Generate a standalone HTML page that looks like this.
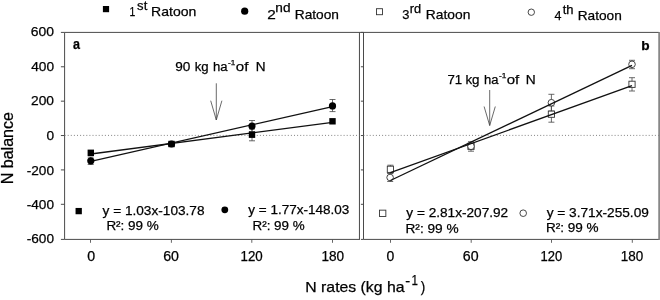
<!DOCTYPE html>
<html><head><meta charset="utf-8"><title>N balance</title>
<style>
html,body{margin:0;padding:0;background:#fff;}
body{width:660px;height:300px;overflow:hidden;font-family:"Liberation Sans",sans-serif;}
svg{display:block;will-change:transform;opacity:0.999;}
text{font-family:"Liberation Sans",sans-serif;fill:#000;stroke:#000;stroke-width:0.25px;}
</style></head><body>
<svg width="660" height="300" viewBox="0 0 660 300">
<rect width="660" height="300" fill="#fff"/>
<g stroke="#4a4a4a" stroke-width="1" fill="none">
<path d="M64.6 239.4 V32.4 H658.8 M658.8 239.4 H363.5 V32.4"/>
<path d="M659.1 31.9 V239.9" stroke="#6a6a6a" stroke-width="1.4"/>
<path d="M64.6 239.4 H359.95 M359.45 239.4 V32.4"/>
<path d="M60.9 32.40 H64.6"/>
<path d="M360.9 32.40 H363.5"/>
<path d="M60.9 66.78 H64.6"/>
<path d="M360.9 66.78 H363.5"/>
<path d="M60.9 101.16 H64.6"/>
<path d="M360.9 101.16 H363.5"/>
<path d="M60.9 135.54 H64.6"/>
<path d="M360.9 135.54 H363.5"/>
<path d="M60.9 169.92 H64.6"/>
<path d="M360.9 169.92 H363.5"/>
<path d="M60.9 204.30 H64.6"/>
<path d="M360.9 204.30 H363.5"/>
<path d="M60.9 239.40 H64.6"/>
<path d="M360.9 239.40 H363.5"/>
</g>
<g stroke="#555" stroke-width="0.9" fill="none">
<path d="M90.5 239.4 V242.8"/>
<path d="M171.4 239.4 V242.8"/>
<path d="M251.8 239.4 V242.8"/>
<path d="M332.5 239.4 V242.8"/>
<path d="M390.5 239.4 V242.8"/>
<path d="M471.2 239.4 V242.8"/>
<path d="M551.5 239.4 V242.8"/>
<path d="M632.3 239.4 V242.8"/>
</g>
<path d="M64.6 135.4 H359.45 M363.5 135.4 H658.8" stroke="#777" stroke-width="0.9" stroke-dasharray="1 2.1" fill="none"/>
<text x="30.79" y="35.6" font-size="13.25" textLength="23.25" lengthAdjust="spacingAndGlyphs">600</text>
<text x="31.19" y="70.5" font-size="13.25" textLength="22.85" lengthAdjust="spacingAndGlyphs">400</text>
<text x="31.06" y="105.2" font-size="13.25" textLength="22.98" lengthAdjust="spacingAndGlyphs">200</text>
<text x="46.41" y="139.6" font-size="13.25" textLength="7.62" lengthAdjust="spacingAndGlyphs">0</text>
<text x="26.74" y="174.5" font-size="13.25" textLength="27.29" lengthAdjust="spacingAndGlyphs">-200</text>
<text x="26.74" y="208.6" font-size="13.25" textLength="27.29" lengthAdjust="spacingAndGlyphs">-400</text>
<text x="26.74" y="243.0" font-size="13.25" textLength="27.29" lengthAdjust="spacingAndGlyphs">-600</text>
<text x="87.19" y="260.9" font-size="13.75" textLength="7.91" lengthAdjust="spacingAndGlyphs">0</text>
<text x="163.23" y="260.9" font-size="13.75" textLength="15.77" lengthAdjust="spacingAndGlyphs">60</text>
<text x="240.53" y="260.9" font-size="13.75" textLength="22.24" lengthAdjust="spacingAndGlyphs">120</text>
<text x="321.42" y="260.9" font-size="13.75" textLength="22.67" lengthAdjust="spacingAndGlyphs">180</text>
<text x="386.4" y="260.9" font-size="13.75" textLength="7.79" lengthAdjust="spacingAndGlyphs">0</text>
<text x="462.83" y="260.9" font-size="13.75" textLength="15.77" lengthAdjust="spacingAndGlyphs">60</text>
<text x="540.46" y="260.9" font-size="13.75" textLength="21.7" lengthAdjust="spacingAndGlyphs">120</text>
<text x="620.73" y="260.9" font-size="13.75" textLength="22.45" lengthAdjust="spacingAndGlyphs">180</text>
<text x="305.3" y="291.9" font-size="15" textLength="99.2" lengthAdjust="spacingAndGlyphs">N rates (kg ha</text>
<text x="405.14" y="286.3" font-size="15.25" textLength="4.91" lengthAdjust="spacingAndGlyphs">-</text>
<text x="411.52" y="285.4" font-size="15.5" textLength="6.45" lengthAdjust="spacingAndGlyphs">1</text>
<text x="420.72" y="291.9" font-size="15" textLength="4.52" lengthAdjust="spacingAndGlyphs">)</text>
<g transform="translate(12.9,183.0) rotate(-90)"><text x="-1.32" y="0" font-size="15.75" textLength="72.33" lengthAdjust="spacingAndGlyphs">N balance</text></g>
<text x="72.93" y="48.8" font-size="15.25" textLength="6.99" lengthAdjust="spacingAndGlyphs" font-weight="bold">a</text>
<text x="641.2" y="50.4" font-size="13.5" textLength="8.36" lengthAdjust="spacingAndGlyphs" font-weight="bold">b</text>
<rect x="102.90" y="6.00" width="6.2" height="6.2" fill="#000"/>
<circle cx="244.7" cy="11.2" r="3.6" fill="#000"/>
<rect x="376.50" y="8.70" width="6" height="6" fill="#fff" stroke="#333" stroke-width="0.9"/>
<circle cx="531.3" cy="12.2" r="3.2" fill="#fff" stroke="#333" stroke-width="0.9"/>
<text x="129.6" y="16.2" font-size="13.5" textLength="5.8" lengthAdjust="spacingAndGlyphs">1</text>
<text x="137.14" y="9.899999999999999" font-size="12" textLength="10.16" lengthAdjust="spacingAndGlyphs">st</text>
<text x="151.05" y="16.2" font-size="13.5" textLength="45.26" lengthAdjust="spacingAndGlyphs">Ratoon</text>
<text x="267.23" y="18.6" font-size="13.5" textLength="8.55" lengthAdjust="spacingAndGlyphs">2</text>
<text x="275.39" y="12.3" font-size="12" textLength="15.19" lengthAdjust="spacingAndGlyphs">nd</text>
<text x="294.78" y="18.6" font-size="13.5" textLength="44.22" lengthAdjust="spacingAndGlyphs">Ratoon</text>
<text x="402.21" y="18.8" font-size="13.5" textLength="7.16" lengthAdjust="spacingAndGlyphs">3</text>
<text x="409.85" y="12.5" font-size="12" textLength="11.37" lengthAdjust="spacingAndGlyphs">rd</text>
<text x="425.87" y="18.8" font-size="13.5" textLength="44.53" lengthAdjust="spacingAndGlyphs">Ratoon</text>
<text x="554.61" y="19.8" font-size="13.5" textLength="6.95" lengthAdjust="spacingAndGlyphs">4</text>
<text x="562.7" y="13.5" font-size="12" textLength="10.84" lengthAdjust="spacingAndGlyphs">th</text>
<text x="577.68" y="19.8" font-size="13.5" textLength="44.11" lengthAdjust="spacingAndGlyphs">Ratoon</text>
<text x="175.26" y="70.9" font-size="13.25" textLength="15.17" lengthAdjust="spacingAndGlyphs">90</text>
<text x="194.71" y="70.9" font-size="13.25" textLength="13.94" lengthAdjust="spacingAndGlyphs">kg</text>
<text x="212.89" y="70.9" font-size="13.25" textLength="14.61" lengthAdjust="spacingAndGlyphs">ha</text>
<text x="228.04" y="64.5" font-size="8" textLength="7.26" lengthAdjust="spacingAndGlyphs">-1</text>
<text x="235.76" y="70.9" font-size="13.25" textLength="12.61" lengthAdjust="spacingAndGlyphs">of</text>
<text x="255.78" y="70.9" font-size="13.25" textLength="9.83" lengthAdjust="spacingAndGlyphs">N</text>
<text x="447.52" y="83.9" font-size="13.25" textLength="14.73" lengthAdjust="spacingAndGlyphs">71</text>
<text x="465.4" y="83.9" font-size="13.25" textLength="14.17" lengthAdjust="spacingAndGlyphs">kg</text>
<text x="484.0" y="83.9" font-size="13.25" textLength="14.5" lengthAdjust="spacingAndGlyphs">ha</text>
<text x="498.93" y="77.5" font-size="8" textLength="7.37" lengthAdjust="spacingAndGlyphs">-1</text>
<text x="506.67" y="83.9" font-size="13.25" textLength="12.51" lengthAdjust="spacingAndGlyphs">of</text>
<text x="525.77" y="83.9" font-size="13.25" textLength="9.95" lengthAdjust="spacingAndGlyphs">N</text>
<path d="M216.3 83.3 V120 M210.70000000000002 100.7 L216.3 120 L221.9 100.7" stroke="#444" stroke-width="0.8" fill="none"/>
<path d="M489.7 90 V125.5 M484.09999999999997 106.5 L489.7 125.5 L495.3 106.5" stroke="#444" stroke-width="0.8" fill="none"/>
<path d="M252 120.5 V131.5 M249.0 120.5 H255.0 M249.0 131.5 H255.0" stroke="#444" stroke-width="0.8" fill="none"/>
<path d="M252 129 V140.8 M249.0 129 H255.0 M249.0 140.8 H255.0" stroke="#444" stroke-width="0.8" fill="none"/>
<path d="M332.5 99.5 V111.6 M329.5 99.5 H335.5 M329.5 111.6 H335.5" stroke="#444" stroke-width="0.8" fill="none"/>
<path d="M90.7 157 V164.5 M87.7 157 H93.7 M87.7 164.5 H93.7" stroke="#444" stroke-width="0.8" fill="none"/>
<path d="M90.8 154.0 L332.5 122.3" stroke="#111" stroke-width="1.3" fill="none"/>
<path d="M90.8 161.3 L332.5 106.6" stroke="#111" stroke-width="1.3" fill="none"/>
<rect x="87.60" y="149.60" width="6.4" height="6.4" fill="#000"/>
<rect x="168.30" y="140.80" width="6.4" height="6.4" fill="#000"/>
<rect x="248.80" y="131.50" width="6.4" height="6.4" fill="#000"/>
<rect x="329.30" y="118.10" width="6.4" height="6.4" fill="#000"/>
<circle cx="90.8" cy="160.8" r="3.6" fill="#000"/>
<circle cx="171.5" cy="144" r="3.6" fill="#000"/>
<circle cx="252" cy="126.1" r="3.6" fill="#000"/>
<circle cx="332.5" cy="105.9" r="3.6" fill="#000"/>
<path d="M390.4 165.2 V173 M387.4 165.2 H393.4 M387.4 173 H393.4" stroke="#444" stroke-width="0.8" fill="none"/>
<path d="M390.2 173.5 V181.5 M387.2 173.5 H393.2 M387.2 181.5 H393.2" stroke="#444" stroke-width="0.8" fill="none"/>
<path d="M471 141.7 V151.2 M468.0 141.7 H474.0 M468.0 151.2 H474.0" stroke="#444" stroke-width="0.8" fill="none"/>
<path d="M551.4 94.3 V111 M548.4 94.3 H554.4 M548.4 111 H554.4" stroke="#444" stroke-width="0.8" fill="none"/>
<path d="M551.4 106 V122.2 M548.4 106 H554.4 M548.4 122.2 H554.4" stroke="#444" stroke-width="0.8" fill="none"/>
<path d="M632 60.3 V68.7 M629.0 60.3 H635.0 M629.0 68.7 H635.0" stroke="#444" stroke-width="0.8" fill="none"/>
<path d="M632 77.7 V91 M629.0 77.7 H635.0 M629.0 91 H635.0" stroke="#444" stroke-width="0.8" fill="none"/>
<rect x="387.30" y="166.20" width="6.2" height="6.2" fill="#fff" stroke="#333" stroke-width="0.9"/>
<rect x="467.90" y="143.20" width="6.2" height="6.2" fill="#fff" stroke="#333" stroke-width="0.9"/>
<rect x="548.30" y="111.10" width="6.2" height="6.2" fill="#fff" stroke="#333" stroke-width="0.9"/>
<rect x="628.90" y="81.20" width="6.2" height="6.2" fill="#fff" stroke="#333" stroke-width="0.9"/>
<circle cx="390.1" cy="177.5" r="3.3" fill="#fff" stroke="#333" stroke-width="0.9"/>
<circle cx="471" cy="146.3" r="3.3" fill="#fff" stroke="#333" stroke-width="0.9"/>
<circle cx="551.4" cy="102.7" r="3.3" fill="#fff" stroke="#333" stroke-width="0.9"/>
<circle cx="632" cy="64.3" r="3.3" fill="#fff" stroke="#333" stroke-width="0.9"/>
<path d="M390.4 172.6 L632 85.7" stroke="#111" stroke-width="1.3" fill="none"/>
<path d="M390.4 180.5 L632 65.4" stroke="#111" stroke-width="1.3" fill="none"/>
<rect x="75.55" y="207.95" width="6.3" height="6.3" fill="#000"/>
<text x="102.57" y="215.1" font-size="13.5" textLength="101.93" lengthAdjust="spacingAndGlyphs">y = 1.03x-103.78</text>
<text x="106.39" y="230.1" font-size="13.5" textLength="52.49" lengthAdjust="spacingAndGlyphs">R²: 99 %</text>
<circle cx="224.8" cy="209.8" r="3.4" fill="#000"/>
<text x="248.27" y="214.4" font-size="13.5" textLength="100.93" lengthAdjust="spacingAndGlyphs">y = 1.77x-148.03</text>
<text x="252.5" y="229.8" font-size="13.5" textLength="52.18" lengthAdjust="spacingAndGlyphs">R²: 99 %</text>
<rect x="379.55" y="210.15" width="6.3" height="6.3" fill="#fff" stroke="#333" stroke-width="0.9"/>
<text x="406.37" y="216.9" font-size="13.5" textLength="101.82" lengthAdjust="spacingAndGlyphs">y = 2.81x-207.92</text>
<text x="405.48" y="232.5" font-size="13.5" textLength="53.21" lengthAdjust="spacingAndGlyphs">R²: 99 %</text>
<circle cx="523.2" cy="213.2" r="3.3" fill="#fff" stroke="#333" stroke-width="0.9"/>
<text x="546.67" y="217.0" font-size="13.5" textLength="102.18" lengthAdjust="spacingAndGlyphs">y = 3.71x-255.09</text>
<text x="545.99" y="231.9" font-size="13.5" textLength="52.69" lengthAdjust="spacingAndGlyphs">R²: 99 %</text>
</svg>
</body></html>
